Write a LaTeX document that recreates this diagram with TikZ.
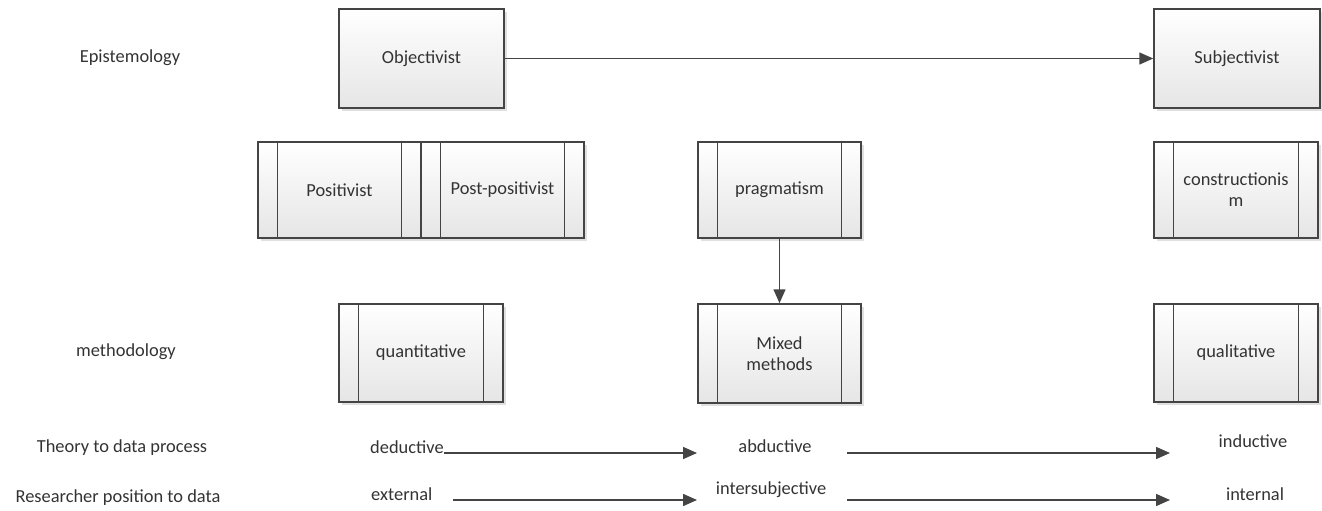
\documentclass[tikz,border=0pt]{standalone}
\usepackage{fontspec}
\setmainfont{Carlito}
\usetikzlibrary{arrows.meta,shadows}
\definecolor{ink}{HTML}{333333}
\definecolor{edge}{HTML}{444444}
\begin{document}
\begin{tikzpicture}[x=1pt,y=-1pt,
  every node/.style={font=\fontsize{18.4}{21}\selectfont, text=ink},
  box/.style={draw=edge, line width=1.5pt, top color=white, bottom color=black!10,
    minimum width=165, minimum height=99, inner sep=0pt, align=center,
    drop shadow={shadow xshift=3pt, shadow yshift=-3pt, fill=black!12, opacity=1}},
  procbox/.style={box, path picture={
    \draw[edge, line width=1.5pt]
      ([xshift=19.5pt]path picture bounding box.north west) -- ([xshift=19.5pt]path picture bounding box.south west)
      ([xshift=-19.5pt]path picture bounding box.north east) -- ([xshift=-19.5pt]path picture bounding box.south east);}},
  flow/.style={draw=edge, line width=1.5pt, -{Triangle[length=14pt, width=12pt]}},
  label/.style={inner sep=0pt}
]
\useasboundingbox (0,0) rectangle (1322,511);

% row labels
\node[label] (epi)  at (130,58)  {Epistemology};
\node[label] (meth) at (126,352) {methodology};
\node[label] (theo) at (122,448) {Theory to data process};
\node[label] (rese) at (118,498) {Researcher position to data};

% epistemology
\node[box, minimum width=165] (obj)  at (421.5,58.5) {Objectivist};
\node[box, minimum width=166] (subj) at (1237,58.5)  {Subjectivist};

% paradigms
\node[procbox, minimum width=163, minimum height=96] (pos)   at (339.5,190) {Positivist};
\node[procbox, minimum width=163, minimum height=96] (ppos)  at (502.5,190) {Post-positivist};
\node[procbox, minimum width=163, minimum height=96] (prag)  at (779.5,190) {pragmatism};
\node[procbox, minimum width=164, minimum height=96] (cons)  at (1236,190)  {constructionis\\m};

% methodologies
\node[procbox, minimum width=164, minimum height=98] (quan)  at (421,353)    {quantitative};
\node[procbox, minimum width=163, minimum height=99] (mixed) at (779.5,353.5) {Mixed\\methods};
\node[procbox, minimum width=164, minimum height=98] (qual)  at (1236,353)   {qualitative};

\draw[flow] (obj) -- (subj);
\draw[flow] (prag) -- (mixed);

% theory to data process
\node[label, anchor=base west] (ded) at (370,453)  {deductive};
\node[label, anchor=base]      (abd) at (775,452)  {abductive};
\node[label, anchor=base]      (ind) at (1253,447) {inductive};
% researcher position
\node[label, anchor=base west] (ext) at (371,500)  {external};
\node[label, anchor=base]      (ins) at (771,494)  {intersubjective};
\node[label, anchor=base]      (int) at (1255,500) {internal};

\coordinate (dedEnd)  at (697,453);
\coordinate (abdBeg)  at (847,453);
\coordinate (abdEnd)  at (1170,453);
\coordinate (extBeg)  at (453,500);
\coordinate (extEnd)  at (697,500);
\coordinate (insBeg)  at (847,500);
\coordinate (insEnd)  at (1170,500);

\draw[flow] (ded.base east) -- (dedEnd);
\draw[flow] (abdBeg) -- (abdEnd);
\draw[flow] (extBeg) -- (extEnd);
\draw[flow] (insBeg) -- (insEnd);
\end{tikzpicture}
\end{document}
